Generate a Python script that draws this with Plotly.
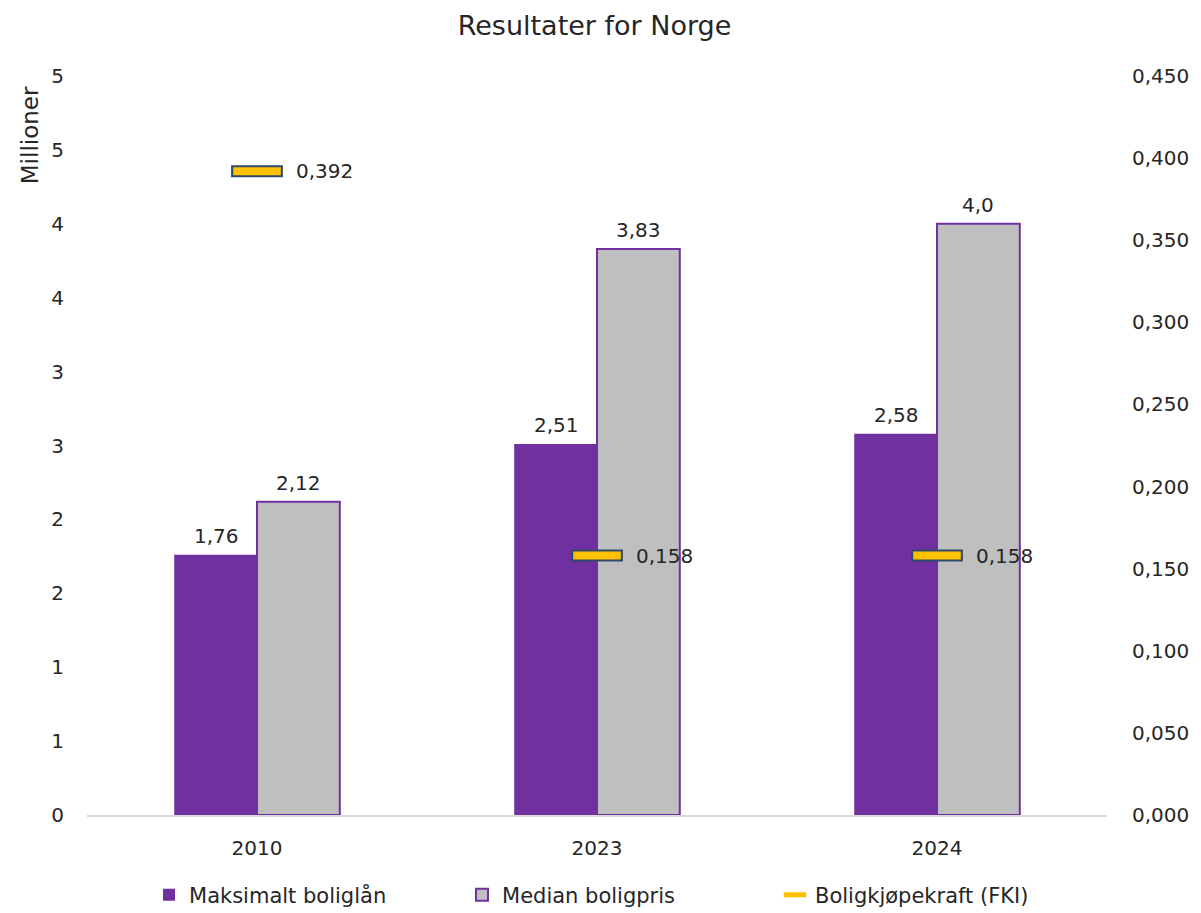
import plotly.graph_objects as go

# Chart data
years = ["2010", "2023", "2024"]
max_loan = [1.76, 2.51, 2.58]          # Maksimalt boliglån (millioner)
median_price = [2.12, 3.83, 4.0]       # Median boligpris (millioner)
fki = [0.392, 0.158, 0.158]            # Boligkjøpekraft (FKI)

left_tickvals = [0, 0.5, 1, 1.5, 2, 2.5, 3, 3.5, 4, 4.5, 5]
left_ticktext = ["0", "1", "1", "2", "2", "3", "3", "4", "4", "5", "5"]


def label(v):
    return str(v).replace(".", ",")


FONT = "'DejaVu Sans', sans-serif"
FS = 20
TXT = "#262626"
PURPLE = "#7030A0"
GREY = "#BFBFBF"
YELLOW = "#FFC000"
OUTLINE = "#2E4A6B"
BAR_HALF = 41  # half a bar's width in px, used to place value labels

fig = go.Figure()

fig.add_trace(go.Bar(
    name="Maksimalt boliglån", x=years, y=max_loan,
    marker=dict(color=PURPLE, line=dict(color=PURPLE, width=0)),
))
fig.add_trace(go.Bar(
    name="Median boligpris", x=years, y=median_price,
    marker=dict(color=GREY, line=dict(color=PURPLE, width=2)),
))

# FKI markers: dark outline dash under a yellow dash
fig.add_trace(go.Scatter(
    name="Boligkjøpekraft (FKI)", x=years, y=fki, yaxis="y2",
    mode="markers", showlegend=False, hoverinfo="skip",
    marker=dict(symbol="line-ew", size=37, color=OUTLINE,
                line=dict(color=OUTLINE, width=12)),
    cliponaxis=False,
))
fig.add_trace(go.Scatter(
    name="Boligkjøpekraft (FKI)", x=years, y=fki, yaxis="y2",
    mode="markers",
    marker=dict(symbol="line-ew", size=34, color=YELLOW,
                line=dict(color=YELLOW, width=8)),
    cliponaxis=False,
))

annotations = []
# Bar value labels above each bar (x given as category index)
for vals, shift in ((max_loan, -BAR_HALF), (median_price, BAR_HALF)):
    for i, v in enumerate(vals):
        annotations.append(dict(
            x=i, y=v, xref="x", yref="y", text=label(v), showarrow=False,
            xanchor="center", yanchor="bottom", xshift=shift, yshift=5,
            font=dict(size=FS, color=TXT)))
# FKI value labels to the right of each dash
for i, v in enumerate(fki):
    annotations.append(dict(
        x=i, y=v, xref="x", yref="y2", text=label(v), showarrow=False,
        xanchor="left", yanchor="middle", xshift=37,
        font=dict(size=FS, color=TXT)))
annotations.append(dict(
    text="Millioner", textangle=-90, showarrow=False,
    xref="paper", yref="paper", x=(30 - 87) / 1024, y=(815 - 135) / 739,
    xanchor="center", yanchor="middle", font=dict(size=23, color=TXT)))

fig.update_layout(
    width=1201, height=913,
    paper_bgcolor="white", plot_bgcolor="white",
    margin=dict(l=87, r=90, t=76, b=98),
    separators=",.",
    font=dict(family=FONT, size=FS, color=TXT),
    title=dict(text="Resultater for Norge", x=0.495, xanchor="center",
               y=1 - 26 / 913, yanchor="middle",
               font=dict(size=27, color=TXT)),
    barmode="group", bargap=0.513, bargroupgap=0,
    xaxis=dict(type="category", range=[-0.5, 2.5], showgrid=False,
               showline=True, linecolor="#D9D9D9", linewidth=1.5, ticks="",
               ticklabelstandoff=14, tickfont=dict(size=FS, color=TXT)),
    yaxis=dict(range=[0, 5], tickvals=left_tickvals, ticktext=left_ticktext,
               showgrid=False, zeroline=False, showline=False, ticks="",
               ticklabelstandoff=22, tickfont=dict(size=FS, color=TXT)),
    yaxis2=dict(range=[0, 0.45], dtick=0.05, tickformat=".3f",
                overlaying="y", side="right", showgrid=False,
                zeroline=False, showline=False, ticks="",
                ticklabelstandoff=24, tickfont=dict(size=FS, color=TXT)),
    legend=dict(orientation="h", x=0.515, xanchor="center",
                xref="container", yref="container",
                y=1 - 895 / 913, yanchor="middle",
                entrywidth=268, font=dict(size=21, color=TXT),
                itemclick=False),
    annotations=annotations,
)

fig.write_html("out.html")
